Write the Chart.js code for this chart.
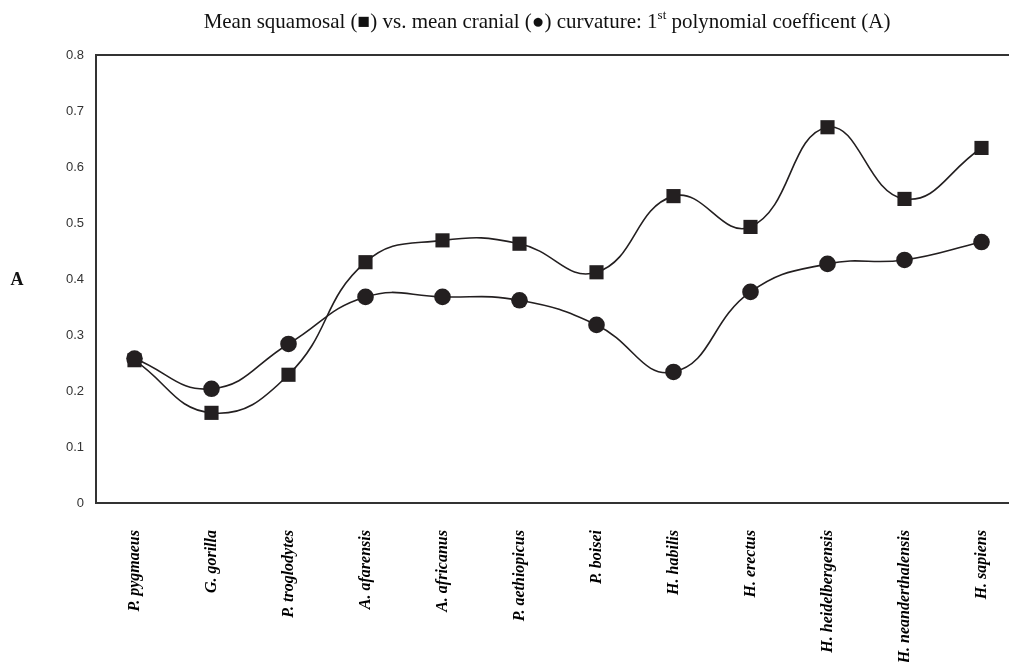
<!DOCTYPE html>
<html>
<head>
<meta charset="utf-8">
<script src="https://cdn.jsdelivr.net/npm/chart.js@4"></script>
<style>
  html, body { margin: 0; padding: 0; background: #fff; overflow: hidden; }
  #wrap { position: relative; width: 1032px; height: 662px; }
</style>
</head>
<body>
<div id="wrap"><canvas id="c"></canvas></div>
<script>
const categories = ['P. pygmaeus', 'G. gorilla', 'P. troglodytes', 'A. afarensis', 'A. africanus', 'P. aethiopicus', 'P. boisei', 'H. habilis', 'H. erectus', 'H. heidelbergensis', 'H. neanderthalensis', 'H. sapiens'];
const squamosal = [0.255, 0.161, 0.229, 0.430, 0.469, 0.463, 0.412, 0.548, 0.493, 0.671, 0.543, 0.634];
const cranial = [0.258, 0.204, 0.284, 0.368, 0.368, 0.362, 0.318, 0.234, 0.377, 0.427, 0.434, 0.466];
const yTicks = [0, 0.1, 0.2, 0.3, 0.4, 0.5, 0.6, 0.7, 0.8];
const titleMain = 'Mean squamosal (\u25A0) vs. mean cranial (\u25CF) curvature: 1';
const titleSup = 'st';
const titleRest = ' polynomial coefficent (A)';
const yTitle = 'A';

const ink = '#231f20';

const decor = {
  id: 'decor',
  afterDraw(chart) {
    const ctx = chart.ctx;
    const a = chart.chartArea;
    ctx.save();
    // top frame line
    ctx.strokeStyle = '#333';
    ctx.lineWidth = 2;
    ctx.beginPath();
    ctx.moveTo(a.left, a.top);
    ctx.lineTo(a.right, a.top);
    ctx.stroke();
    // title with superscript
    ctx.fillStyle = '#111';
    ctx.textBaseline = 'alphabetic';
    const fMain = '21px "Liberation Serif", "Times New Roman", serif';
    const fSup = '13px "Liberation Serif", "Times New Roman", serif';
    ctx.font = fMain;
    const w1 = ctx.measureText(titleMain).width;
    const w3 = ctx.measureText(titleRest).width;
    ctx.font = fSup;
    const w2 = ctx.measureText(titleSup).width;
    const total = w1 + w2 + w3;
    let x = 547 - total / 2;
    const base = 28;
    ctx.textAlign = 'left';
    ctx.font = fMain;
    ctx.fillText(titleMain, x, base);
    x += w1;
    ctx.font = fSup;
    ctx.fillText(titleSup, x, base - 9);
    x += w2;
    ctx.font = fMain;
    ctx.fillText(titleRest, x, base);
    // y title, horizontal
    ctx.font = 'bold 18px "Liberation Serif", "Times New Roman", serif';
    ctx.textAlign = 'center';
    ctx.fillText(yTitle, 17, 285);
    ctx.restore();
  }
};

new Chart(document.getElementById('c'), {
  type: 'line',
  data: {
    labels: categories,
    datasets: [
      {
        label: 'cranial',
        data: cranial,
        borderColor: ink,
        backgroundColor: ink,
        borderWidth: 1.6,
        tension: 0.45,
        pointStyle: 'circle',
        pointRadius: 8.3,
        pointBorderWidth: 0,
        fill: false
      },
      {
        label: 'squamosal',
        data: squamosal,
        borderColor: ink,
        backgroundColor: ink,
        borderWidth: 1.6,
        tension: 0.45,
        pointStyle: 'rect',
        pointRadius: 10,
        pointBorderWidth: 0,
        fill: false
      }
    ]
  },
  options: {
    responsive: true,
    maintainAspectRatio: false,
    animation: false,
    layout: { padding: { top: 55, right: 12, left: 0, bottom: 0 } },
    plugins: {
      legend: { display: false },
      title: { display: false },
      tooltip: { enabled: false }
    },
    scales: {
      x: {
        type: 'category',
        offset: true,
        grid: { display: false, drawTicks: false },
        border: { display: true, color: '#333', width: 2 },
        ticks: {
          autoSkip: false,
          minRotation: 90,
          maxRotation: 90,
          padding: 27,
          color: '#000',
          font: { family: '"Liberation Serif", "Times New Roman", serif', size: 16, style: 'italic', weight: 'bold' }
        },
        afterFit(scale) { scale.height = 159; }
      },
      y: {
        min: 0,
        max: 0.8,
        grid: { display: false, drawTicks: false },
        border: { display: true, color: '#333', width: 2 },
        afterBuildTicks(scale) { scale.ticks = yTicks.map(v => ({ value: v })); },
        ticks: {
          padding: 12,
          color: '#333',
          font: { family: '"Liberation Sans", Arial, sans-serif', size: 13 },
          callback: (v) => (Math.round(v * 10) / 10).toString()
        },
        afterFit(scale) { scale.width = 96; }
      }
    }
  },
  plugins: [decor]
});
</script>
</body>
</html>
